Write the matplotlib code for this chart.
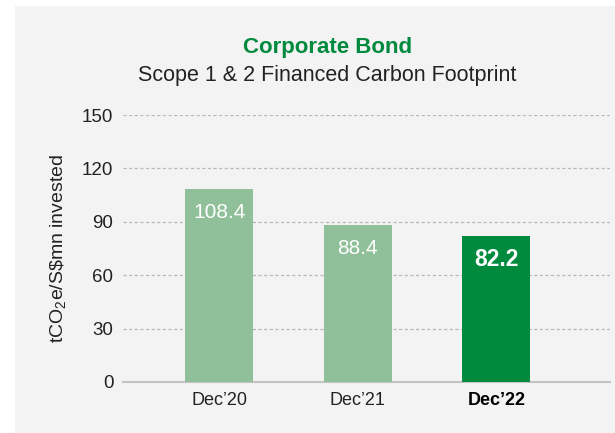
import matplotlib
matplotlib.use("Agg")
import matplotlib.pyplot as plt
from matplotlib.patches import Rectangle

categories = ["Dec\u201920", "Dec\u201921", "Dec\u201922"]
values = [108.4, 88.4, 82.2]
colors = ["#90c099", "#90c099", "#008a3e"]
yticks = [0, 30, 60, 90, 120, 150]

plt.rcParams['font.family'] = ['Liberation Sans', 'DejaVu Sans']
plt.rcParams['mathtext.fontset'] = 'custom'
plt.rcParams['mathtext.rm'] = 'Liberation Sans'

W, H = 615, 433
fig = plt.figure(figsize=(W/100, H/100), dpi=100)
fig.patch.set_facecolor("white")
fig.patches.append(Rectangle((15/W, 0), 1, 1 - 6/H, transform=fig.transFigure,
                             facecolor="#f3f3f3", edgecolor="none", zorder=-10))

ax = fig.add_axes([123/W, 1 - 382/H, (610-123)/W, (382-115)/H])
ax.set_facecolor("none")
x = list(range(len(categories)))
bars = ax.bar(x, values, width=0.49, color=colors, zorder=3)
ax.set_xlim(-0.693, 2.82)
ax.set_ylim(0, 150)
ax.set_yticks(yticks)
ax.set_yticklabels([str(t) for t in yticks], fontsize=13.5, color="#222222")
for t in yticks[1:]:
    ax.axhline(t, color="#b8b8b8", lw=0.9, ls=(0, (2.5, 2)), zorder=1)
for s in ["top", "right", "left"]:
    ax.spines[s].set_visible(False)
ax.spines["bottom"].set_color("#c4c4c4")
ax.spines["bottom"].set_linewidth(1.5)
ax.tick_params(axis="y", length=0, pad=7)
ax.tick_params(axis="x", length=0, pad=7)
ax.set_xticks(x)
ax.set_xticklabels(categories, fontsize=13, color="#222222")
ax.get_xticklabels()[-1].set_fontweight("bold")
ax.get_xticklabels()[-1].set_color("black")

for i, v in enumerate(values):
    last = i == len(values) - 1
    ax.annotate(f"{v:.1f}", (i, v), xytext=(0, -17), textcoords="offset points",
                ha="center", va="center", color="white", fontsize=16.5 if last else 15,
                fontweight="bold" if last else "normal", zorder=4)

ax.set_ylabel("tCO$_\\mathregular{2}$e/S\\$mn invested", fontsize=14, color="#222222", labelpad=9)

fig.text(327.5/W, 1 - 48/H, "Corporate Bond", ha="center", va="center",
         fontsize=16, fontweight="bold", color="#008a3e")
fig.text(327.5/W, 1 - 76/H, "Scope 1 & 2 Financed Carbon Footprint", ha="center", va="center",
         fontsize=15.5, color="#222222")

fig.savefig("out.png", dpi=100)
